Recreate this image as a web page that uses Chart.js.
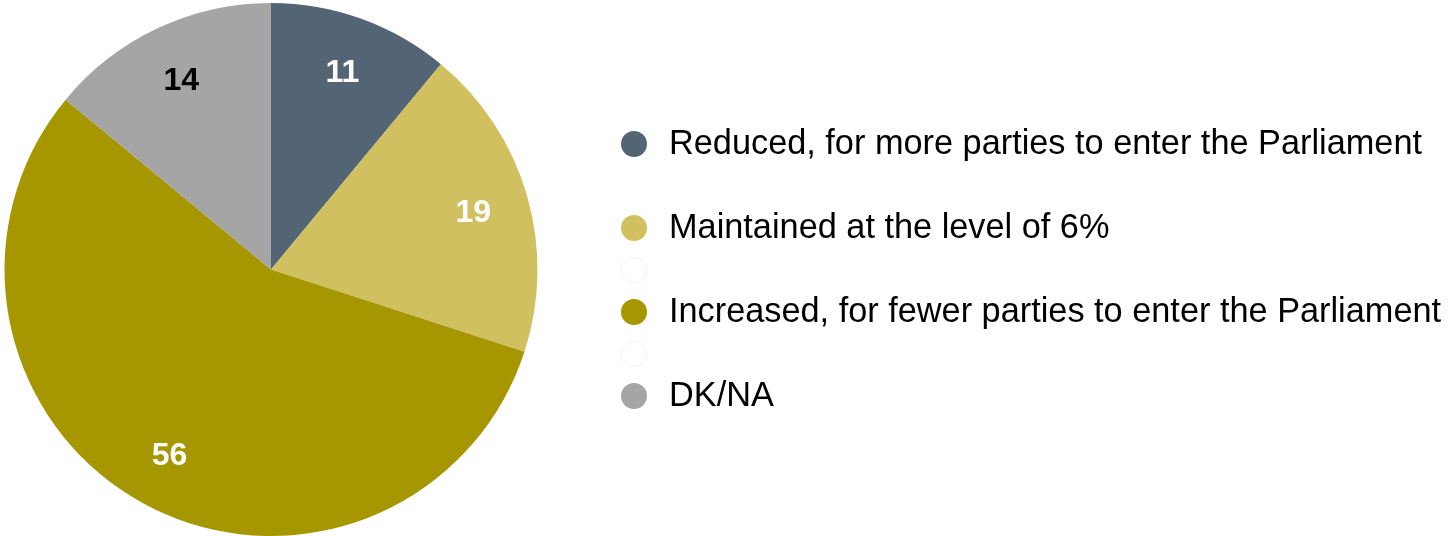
<!DOCTYPE html>
<html>
<head>
<meta charset="utf-8">
<script src="https://cdn.jsdelivr.net/npm/chart.js@4.4.1/dist/chart.umd.min.js"></script>
<style>
html,body{margin:0;padding:0;background:#fff;}
#wrap{width:1448px;height:536px;position:relative;}
</style>
</head>
<body>
<div id="wrap"><canvas id="c" width="1448" height="536"></canvas></div>
<script>
const categories = [
  'Reduced, for more parties to enter the Parliament',
  'Maintained at the level of 6%',
  '',
  'Increased, for fewer parties to enter the Parliament',
  '',
  'DK/NA'
];
const values = [11, 19, 0, 56, 0, 14];
const colors = ['#536475', '#D1C060', '#FFFFFF', '#A69600', '#FFFFFF', '#A5A5A5'];
const labelColors = ['#FFFFFF', '#FFFFFF', '#FFFFFF', '#FFFFFF', '#FFFFFF', '#000000'];
const legendRows = [0, 2, 3, 4, 5, 6];

const labelPlugin = {
  id: 'sliceLabels',
  afterDatasetsDraw(chart) {
    const ctx = chart.ctx;
    const meta = chart.getDatasetMeta(0);
    ctx.save();
    ctx.font = 'bold 32px "Liberation Sans", Arial, sans-serif';
    ctx.textAlign = 'center';
    ctx.textBaseline = 'middle';
    meta.data.forEach((arc, i) => {
      const v = chart.data.datasets[0].data[i];
      if (!v) return;
      const p = arc.getProps(['x','y','startAngle','endAngle','outerRadius'], true);
      const mid = (p.startAngle + p.endAngle) / 2;
      const r = p.outerRadius * 0.79;
      ctx.fillStyle = labelColors[i];
      ctx.fillText(String(v), p.x + Math.cos(mid) * r, p.y + Math.sin(mid) * r + 2);
    });
    ctx.restore();
  }
};

const legendPlugin = {
  id: 'sideLegend',
  afterDraw(chart) {
    const ctx = chart.ctx;
    const ds = chart.data.datasets[0];
    ctx.save();
    ctx.font = '34.3px "Liberation Sans", Arial, sans-serif';
    ctx.textAlign = 'left';
    ctx.textBaseline = 'middle';
    chart.data.labels.forEach((lab, i) => {
      const y = 144 + legendRows[i] * 42;
      ctx.beginPath();
      ctx.arc(634, y, 13, 0, Math.PI * 2);
      ctx.fillStyle = ds.backgroundColor[i];
      ctx.fill();
      if (!lab) {
        ctx.lineWidth = 1;
        ctx.strokeStyle = '#F2F2F2';
        ctx.stroke();
      }
      ctx.fillStyle = '#000000';
      ctx.fillText(lab, 669, y + 1);
    });
    ctx.restore();
  }
};

new Chart(document.getElementById('c'), {
  type: 'pie',
  data: {
    labels: categories,
    datasets: [{
      data: values,
      backgroundColor: colors,
      borderWidth: 0
    }]
  },
  options: {
    responsive: false,
    animation: false,
    layout: { padding: { left: 4, top: 3, right: 910, bottom: 0 } },
    plugins: {
      legend: { display: false },
      tooltip: { enabled: false }
    }
  },
  plugins: [labelPlugin, legendPlugin]
});
</script>
</body>
</html>
